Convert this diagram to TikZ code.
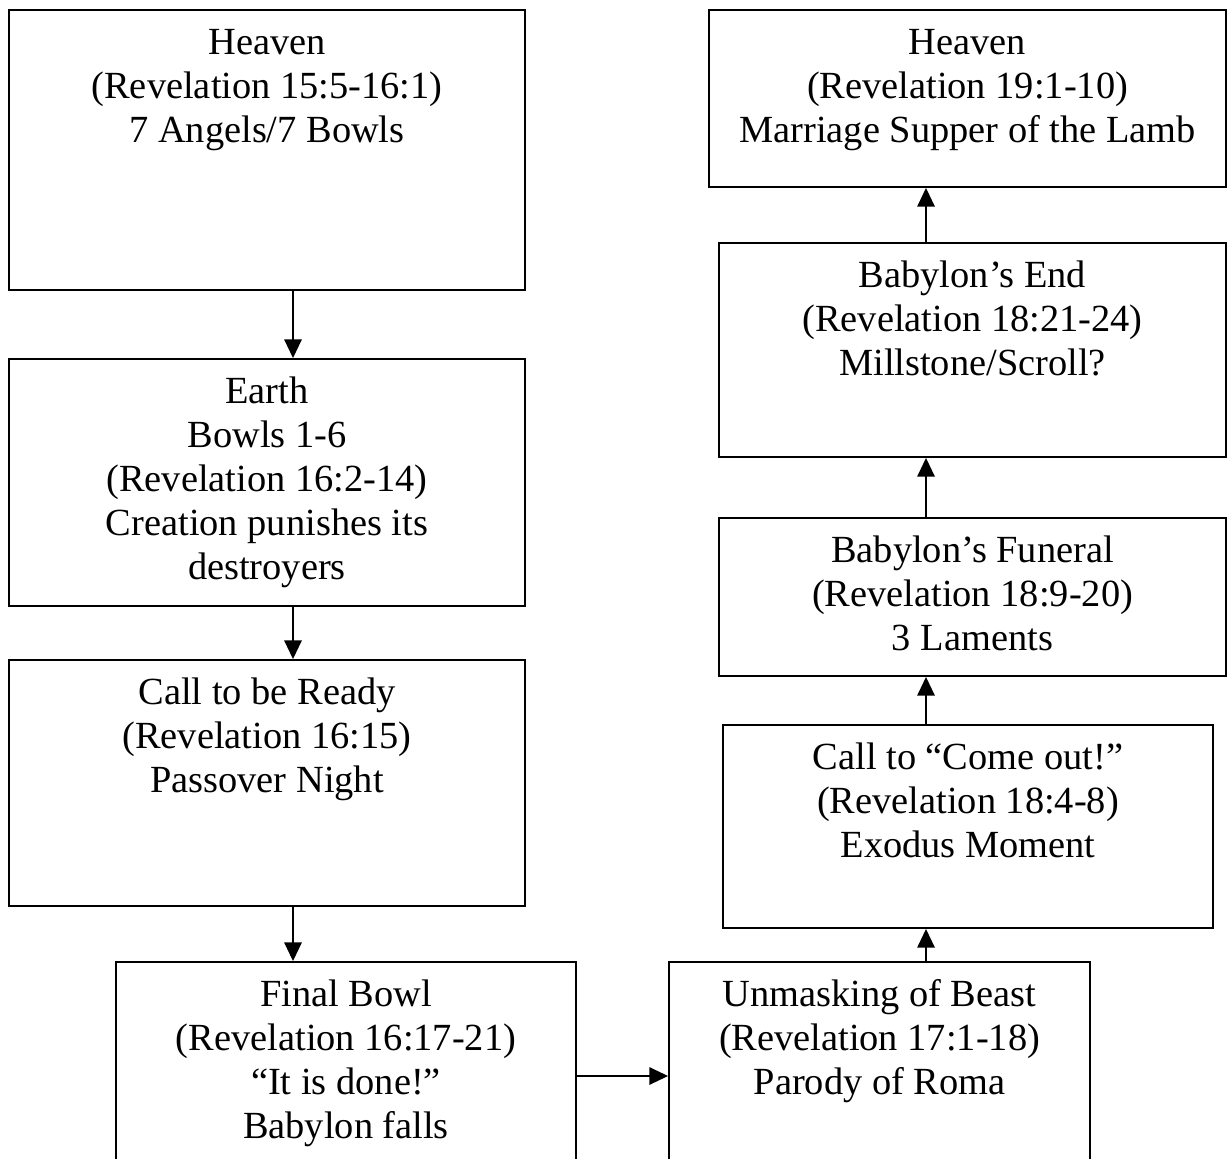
\documentclass[tikz,border=0pt]{standalone}
\usepackage{fontspec}
\setmainfont{Liberation Serif}
\usepackage{tikz}
\usetikzlibrary{arrows.meta, positioning, calc}
\tikzset{
    box/.style={rectangle, draw, line width=1.4pt, inner sep=0pt},
    boxtext/.style={anchor=north, align=center, inner sep=0pt, yshift=-10.6pt, font=\fontsize{28.8pt}{33pt}\selectfont},
    arrow/.style={line width=1.4pt, -{Triangle[length=14pt, width=13pt]}}
}

\begin{document}
\begin{tikzpicture}[x=0.75pt, y=-0.75pt]
    \useasboundingbox (0,0) rectangle (1227,1159);

    % Left column
    \node (heavenA) [box, minimum width=387pt, minimum height=210pt, label={[boxtext]north:{\strut Heaven\\(Revelation 15:5-16:1)\\7 Angels/7 Bowls}}] at (267,150) {};
    \node (earth) [box, minimum width=387pt, minimum height=185.25pt, label={[boxtext]north:{\strut Earth\\Bowls 1-6\\(Revelation 16:2-14)\\Creation punishes its\\destroyers}}] at (267,482.5) {};
    \node (ready) [box, minimum width=387pt, minimum height=184.5pt, label={[boxtext]north:{\strut Call to be Ready\\(Revelation 16:15)\\Passover Night}}] at (267,783) {};

    % Bottom row
    \node (bowl) [box, minimum width=345pt, minimum height=151.5pt, label={[boxtext]north:{\strut Final Bowl\\(Revelation 16:17-21)\\“It is done!”\\Babylon falls}}] at (346,1063) {};
    \node (unmask) [box, minimum width=315.75pt, minimum height=151.5pt, label={[boxtext]north:{\strut Unmasking of Beast\\(Revelation 17:1-18)\\Parody of Roma}}] at (879.5,1063) {};

    % Right column
    \node (comeout) [box, minimum width=367.5pt, minimum height=152.25pt, label={[boxtext]north:{\strut Call to “Come out!”\\(Revelation 18:4-8)\\Exodus Moment}}] at (968,826.5) {};
    \node (funeral) [box, minimum width=380pt, minimum height=118.5pt, label={[boxtext]north:{\strut Babylon’s Funeral\\(Revelation 18:9-20)\\3 Laments}}] at (972.5,597) {};
    \node (babend) [box, minimum width=380pt, minimum height=160.5pt, label={[boxtext]north:{\strut Babylon’s End\\(Revelation 18:21-24)\\Millstone/Scroll?}}] at (972.5,350) {};
    \node (heavenB) [box, minimum width=387.75pt, minimum height=132.75pt, label={[boxtext]north:{\strut Heaven\\(Revelation 19:1-10)\\Marriage Supper of the Lamb}}] at (967.5,98.5) {};

    % Lines of the arrows
    \coordinate (lx) at (293,0);
    \coordinate (rx) at (926,0);
    \coordinate (ly) at (0,1076);

    \draw [arrow] (heavenA.south -| lx) -- (earth.north -| lx);
    \draw [arrow] (earth.south -| lx) -- (ready.north -| lx);
    \draw [arrow] (ready.south -| lx) -- (bowl.north -| lx);
    \draw [arrow] (bowl.east |- ly) -- (unmask.west |- ly);
    \draw [arrow] (unmask.north -| rx) -- (comeout.south -| rx);
    \draw [arrow] (comeout.north -| rx) -- (funeral.south -| rx);
    \draw [arrow] (funeral.north -| rx) -- (babend.south -| rx);
    \draw [arrow] (babend.north -| rx) -- (heavenB.south -| rx);
\end{tikzpicture}
\end{document}
